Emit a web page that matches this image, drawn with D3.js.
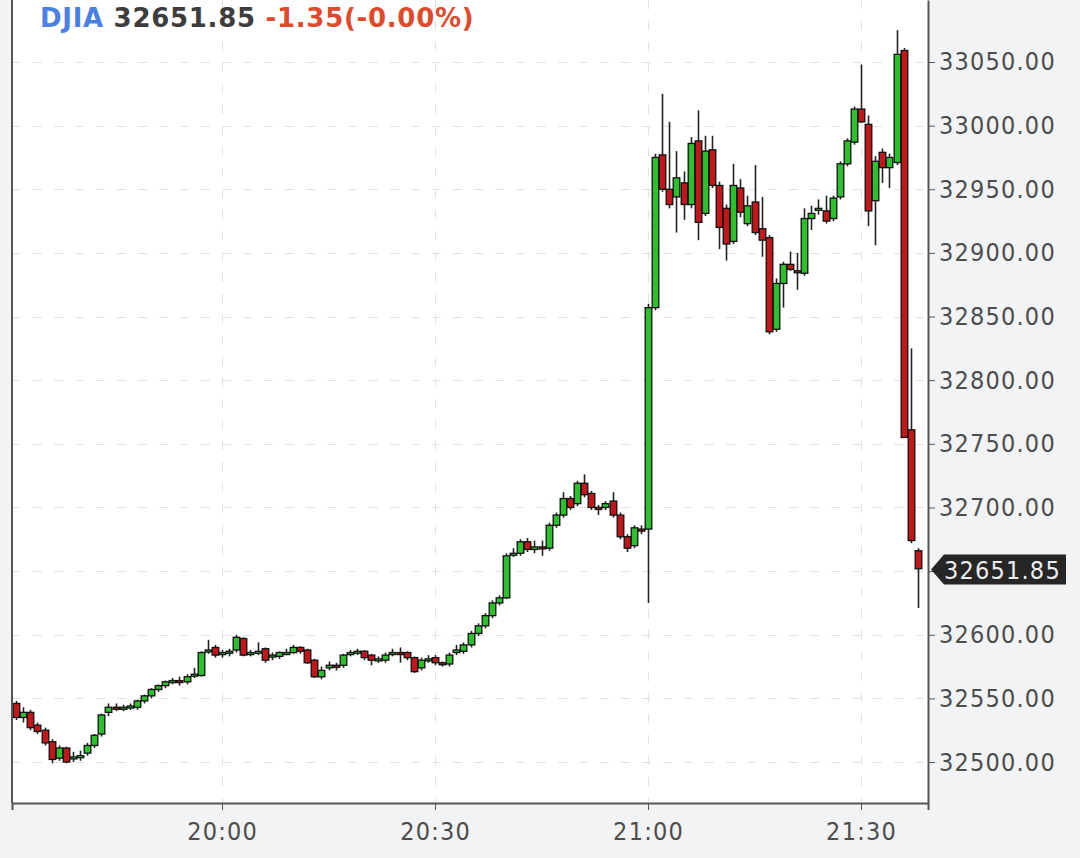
<!DOCTYPE html>
<html>
<head>
<meta charset="utf-8">
<script src="https://cdn.jsdelivr.net/npm/d3@7"></script>
<style>
  body { margin: 0; background: #f2f3f5; }
  #graphic { width: 1080px; height: 858px; }
  .axis text { font-family: "DejaVu Sans Condensed", "DejaVu Sans", sans-serif; font-size: 25px; fill: #4d4d4d; letter-spacing: 1.2px; }
  .axis path, .axis line { stroke: #555; }
  .axis path { stroke-width: 2; }
  .grid line { stroke: #e2e2e2; stroke-dasharray: 9,12; }
</style>
</head>
<body>
<div id="graphic"></div>
<script>
// 1-minute DJIA candles, 19:31 -> 21:38
const symbol = "DJIA";
const lastPrice = 32651.85;
const changeText = "-1.35(-0.00%)";
const startTime = "19:31";

const opens = [
  32546, 32535, 32539, 32529, 32525, 32516, 32503, 32511, 32503, 32504,
  32507, 32513, 32522, 32539, 32543, 32542, 32543, 32543, 32548, 32552,
  32557, 32560, 32563, 32564, 32563, 32568, 32568, 32587, 32590, 32585,
  32586, 32588, 32597, 32585, 32586, 32589, 32583, 32583, 32586, 32586,
  32590, 32588, 32580, 32567, 32574, 32576, 32576, 32585, 32586, 32587,
  32584, 32580, 32580, 32585, 32586, 32586, 32582, 32574, 32580, 32582,
  32578, 32577, 32586, 32587, 32592, 32601, 32607, 32615, 32625, 32629,
  32663, 32664, 32673, 32667, 32669, 32668, 32686, 32694, 32707, 32703,
  32719, 32711, 32700, 32700, 32705, 32694, 32677, 32670, 32683, 32683,
  32857, 32977, 32950, 32944, 32955, 32938, 32988, 32931, 32981, 32953,
  32935, 32909, 32951, 32923, 32940, 32919, 32912, 32840, 32876, 32891,
  32886, 32884, 32927, 32934, 32933, 32927, 32944, 32970, 32987, 33013,
  33001, 32941, 32979, 32967, 32971, 33059, 32761, 32666
];
const highs = [
  32548, 32543, 32541, 32531, 32527, 32518, 32513, 32512, 32508, 32509,
  32515, 32522, 32538, 32546, 32546, 32545, 32546, 32549, 32553, 32558,
  32561, 32564, 32566, 32567, 32569, 32574, 32587, 32596, 32592, 32588,
  32589, 32600, 32598, 32588, 32594, 32590, 32586, 32587, 32589, 32592,
  32591, 32589, 32581, 32575, 32579, 32578, 32585, 32588, 32589, 32588,
  32585, 32583, 32586, 32589, 32590, 32587, 32583, 32582, 32584, 32584,
  32579, 32586, 32592, 32594, 32603, 32609, 32617, 32627, 32631, 32664,
  32668, 32675, 32676, 32674, 32674, 32688, 32696, 32712, 32709, 32721,
  32726, 32713, 32702, 32705, 32712, 32696, 32679, 32686, 32686, 32860,
  32978, 33025, 33003, 32980, 32964, 32991, 33012, 32992, 32992, 32956,
  32938, 32970, 32958, 32945, 32969, 32944, 32914, 32880, 32893, 32901,
  32900, 32935, 32937, 32942, 32945, 32945, 32972, 32990, 33015, 33048,
  33008, 32976, 32982, 32978, 33075, 33061, 32825, 32668
];
const lows = [
  32533, 32531, 32525, 32522, 32513, 32499, 32501, 32499, 32500, 32501,
  32505, 32511, 32520, 32536, 32540, 32540, 32541, 32541, 32546, 32550,
  32555, 32558, 32561, 32560, 32561, 32566, 32567, 32585, 32582, 32582,
  32583, 32586, 32583, 32583, 32584, 32578, 32580, 32581, 32584, 32585,
  32585, 32577, 32566, 32565, 32572, 32572, 32574, 32583, 32584, 32580,
  32576, 32578, 32578, 32583, 32578, 32580, 32570, 32572, 32578, 32576,
  32575, 32575, 32584, 32585, 32590, 32599, 32605, 32613, 32623, 32628,
  32661, 32662, 32665, 32664, 32662, 32666, 32684, 32692, 32698, 32701,
  32708, 32698, 32694, 32698, 32692, 32675, 32665, 32668, 32679, 32625,
  32855, 32948, 32935, 32916, 32926, 32935, 32910, 32929, 32951, 32903,
  32894, 32907, 32928, 32921, 32914, 32897, 32836, 32838, 32857, 32886,
  32871, 32882, 32918, 32930, 32923, 32925, 32942, 32968, 32985, 33002,
  32921, 32906, 32955, 32951, 32969, 32755, 32672, 32621
];
const closes = [
  32535, 32539, 32527, 32524, 32515, 32502, 32511, 32500, 32504, 32505,
  32513, 32521, 32537, 32543, 32542, 32543, 32544, 32548, 32552, 32557,
  32560, 32563, 32564, 32563, 32567, 32569, 32586, 32588, 32584, 32586,
  32587, 32598, 32584, 32586, 32587, 32580, 32584, 32586, 32586, 32590,
  32587, 32578, 32567, 32572, 32576, 32575, 32584, 32586, 32587, 32582,
  32580, 32581, 32584, 32586, 32585, 32582, 32571, 32580, 32581, 32578,
  32577, 32584, 32588, 32592, 32601, 32607, 32615, 32625, 32629, 32662,
  32664, 32673, 32667, 32669, 32668, 32686, 32694, 32707, 32700, 32719,
  32710, 32700, 32699, 32703, 32694, 32677, 32668, 32684, 32682, 32857,
  32975, 32950, 32938, 32959, 32938, 32986, 32924, 32980, 32953, 32920,
  32907, 32953, 32932, 32937, 32916, 32910, 32838, 32876, 32891, 32887,
  32885, 32927, 32931, 32935, 32925, 32943, 32970, 32988, 33013, 33003,
  32933, 32972, 32967, 32975, 33056, 32755, 32674, 32651.85
];

const yTicks = [32500, 32550, 32600, 32650, 32700, 32750, 32800, 32850, 32900, 32950, 33000, 33050];
const xTicks = ["20:00", "20:30", "21:00", "21:30"];

const parseTime = d3.timeParse("%H:%M:%S");
const parseHM = d3.timeParse("%H:%M");
const t0 = parseHM(startTime);

const candles = opens.map(function(o, i) {
  return {
    time: d3.timeMinute.offset(t0, i),
    open: o,
    high: highs[i],
    low: lows[i],
    close: closes[i]
  };
});

const candleChart = {
  el: "#graphic",
  outerWidth: 1080,
  outerHeight: 858,
  margin: { left: 12, top: 0, right: 152, bottom: 55 },
  up: "#2cc02c",
  down: "#c3161b",
  parameters() {
    this.width = this.outerWidth - this.margin.left - this.margin.right;
    this.height = this.outerHeight - this.margin.top - this.margin.bottom;
  },
  createScales() {
    this.xScale = d3.scaleTime()
      .domain([parseTime("19:30:25"), parseTime("21:39:26")])
      .range([0, this.width]);

    this.yScale = d3.scaleLinear()
      .domain([32467.8, 33098.7])
      .range([this.height, 0]);
  },
  drawPlot() {
    document.querySelector(this.el).innerHTML = "";
    this.svg = d3.select(this.el)
      .append("svg")
      .attr("width", this.outerWidth)
      .attr("height", this.outerHeight);

    this.svg.append("rect")
      .attr("width", this.outerWidth)
      .attr("height", this.outerHeight)
      .attr("fill", "#f2f3f5");

    this.plot = this.svg.append("g")
      .attr("transform", `translate(${this.margin.left}, ${this.margin.top})`);

    this.plot.append("rect")
      .attr("width", this.width)
      .attr("height", this.height)
      .attr("fill", "#ffffff");
  },
  drawGrid() {
    const that = this;
    const grid = this.plot.append("g").attr("class", "grid");

    grid.selectAll(".hgrid")
      .data(yTicks)
      .enter()
      .append("line")
      .attr("x1", 0)
      .attr("x2", this.width)
      .attr("y1", d => Math.round(that.yScale(d)) + 0.5)
      .attr("y2", d => Math.round(that.yScale(d)) + 0.5);

    grid.selectAll(".vgrid")
      .data(xTicks)
      .enter()
      .append("line")
      .attr("x1", d => Math.round(that.xScale(parseHM(d))) + 0.5)
      .attr("x2", d => Math.round(that.xScale(parseHM(d))) + 0.5)
      .attr("y1", 0)
      .attr("y2", this.height);
  },
  drawAxes() {
    // the 32650 label sits under the last-price tag, so it is not printed
    this.yAxis = d3.axisRight(this.yScale)
      .tickValues(yTicks)
      .tickFormat(d => d === 32650 ? "" : d3.format(".2f")(d))
      .tickSize(7)
      .tickSizeOuter(0)
      .tickPadding(4);

    this.xAxis = d3.axisBottom(this.xScale)
      .tickValues(xTicks.map(parseHM))
      .tickFormat(d3.timeFormat("%H:%M"))
      .tickSize(7)
      .tickSizeOuter(7)
      .tickPadding(12);

    this.plot.append("g")
      .attr("class", "axis yaxis")
      .attr("transform", `translate(${this.width}, 0)`)
      .call(this.yAxis);

    this.plot.append("g")
      .attr("class", "axis xaxis")
      .attr("transform", `translate(0, ${this.height})`)
      .call(this.xAxis);

    // left border
    this.plot.append("line")
      .attr("x1", 0).attr("x2", 0)
      .attr("y1", 0).attr("y2", this.height)
      .attr("stroke", "#555")
      .attr("stroke-width", 2);
  },
  drawData() {
    const that = this;
    const bodyW = 6.6;
    const g = this.plot.append("g").attr("class", "candles");

    g.selectAll(".wick")
      .data(candles)
      .enter()
      .append("line")
      .attr("class", "wick")
      .attr("x1", d => Math.round(that.xScale(d.time)) + 0.5)
      .attr("x2", d => Math.round(that.xScale(d.time)) + 0.5)
      .attr("y1", d => that.yScale(d.high))
      .attr("y2", d => that.yScale(d.low))
      .attr("stroke", "#222")
      .attr("stroke-width", 1.6);

    g.selectAll(".body")
      .data(candles)
      .enter()
      .append("rect")
      .attr("class", "body")
      .attr("x", d => Math.round(that.xScale(d.time)) - bodyW / 2 + 0.5)
      .attr("width", bodyW)
      .attr("y", d => that.yScale(Math.max(d.open, d.close)))
      .attr("height", d => Math.max(2, Math.abs(that.yScale(d.open) - that.yScale(d.close))))
      .attr("fill", d => d.close >= d.open ? that.up : that.down)
      .attr("stroke", "#111")
      .attr("stroke-width", 1.3);
  },
  drawLabels() {
    // header
    const header = this.svg.append("text")
      .attr("x", 40)
      .attr("y", 27)
      .style("font-family", "'DejaVu Sans', sans-serif")
      .style("font-weight", "bold")
      .style("font-size", "26px")
      .style("letter-spacing", "0.7px");
    header.append("tspan").attr("fill", "#4a7fe4").text(symbol + " ");
    header.append("tspan").attr("fill", "#3d3d3d").text(d3.format(".2f")(lastPrice) + " ");
    header.append("tspan").attr("fill", "#e04a2c").text(changeText);

    // last price tag
    const yc = Math.round(this.yScale(lastPrice)) + 0.5;
    const x0 = this.margin.left + this.width + 3;
    const tag = this.svg.append("g");
    tag.append("path")
      .attr("d", `M${x0},${yc} L${x0 + 13},${yc - 15} L${x0 + 135},${yc - 15} L${x0 + 135},${yc + 15} L${x0 + 13},${yc + 15} Z`)
      .attr("fill", "#262626");
    tag.append("text")
      .attr("x", x0 + 13)
      .attr("y", yc)
      .attr("dy", "0.36em")
      .style("font-family", "'DejaVu Sans Condensed', 'DejaVu Sans', sans-serif")
      .style("font-size", "25px")
      .style("letter-spacing", "1.2px")
      .attr("fill", "#ececec")
      .text(d3.format(".2f")(lastPrice));
  },
  draw() {
    this.parameters();
    this.createScales();
    this.drawPlot();
    this.drawGrid();
    this.drawData();
    this.drawAxes();
    this.drawLabels();
  }
};

candleChart.draw();
</script>
</body>
</html>
